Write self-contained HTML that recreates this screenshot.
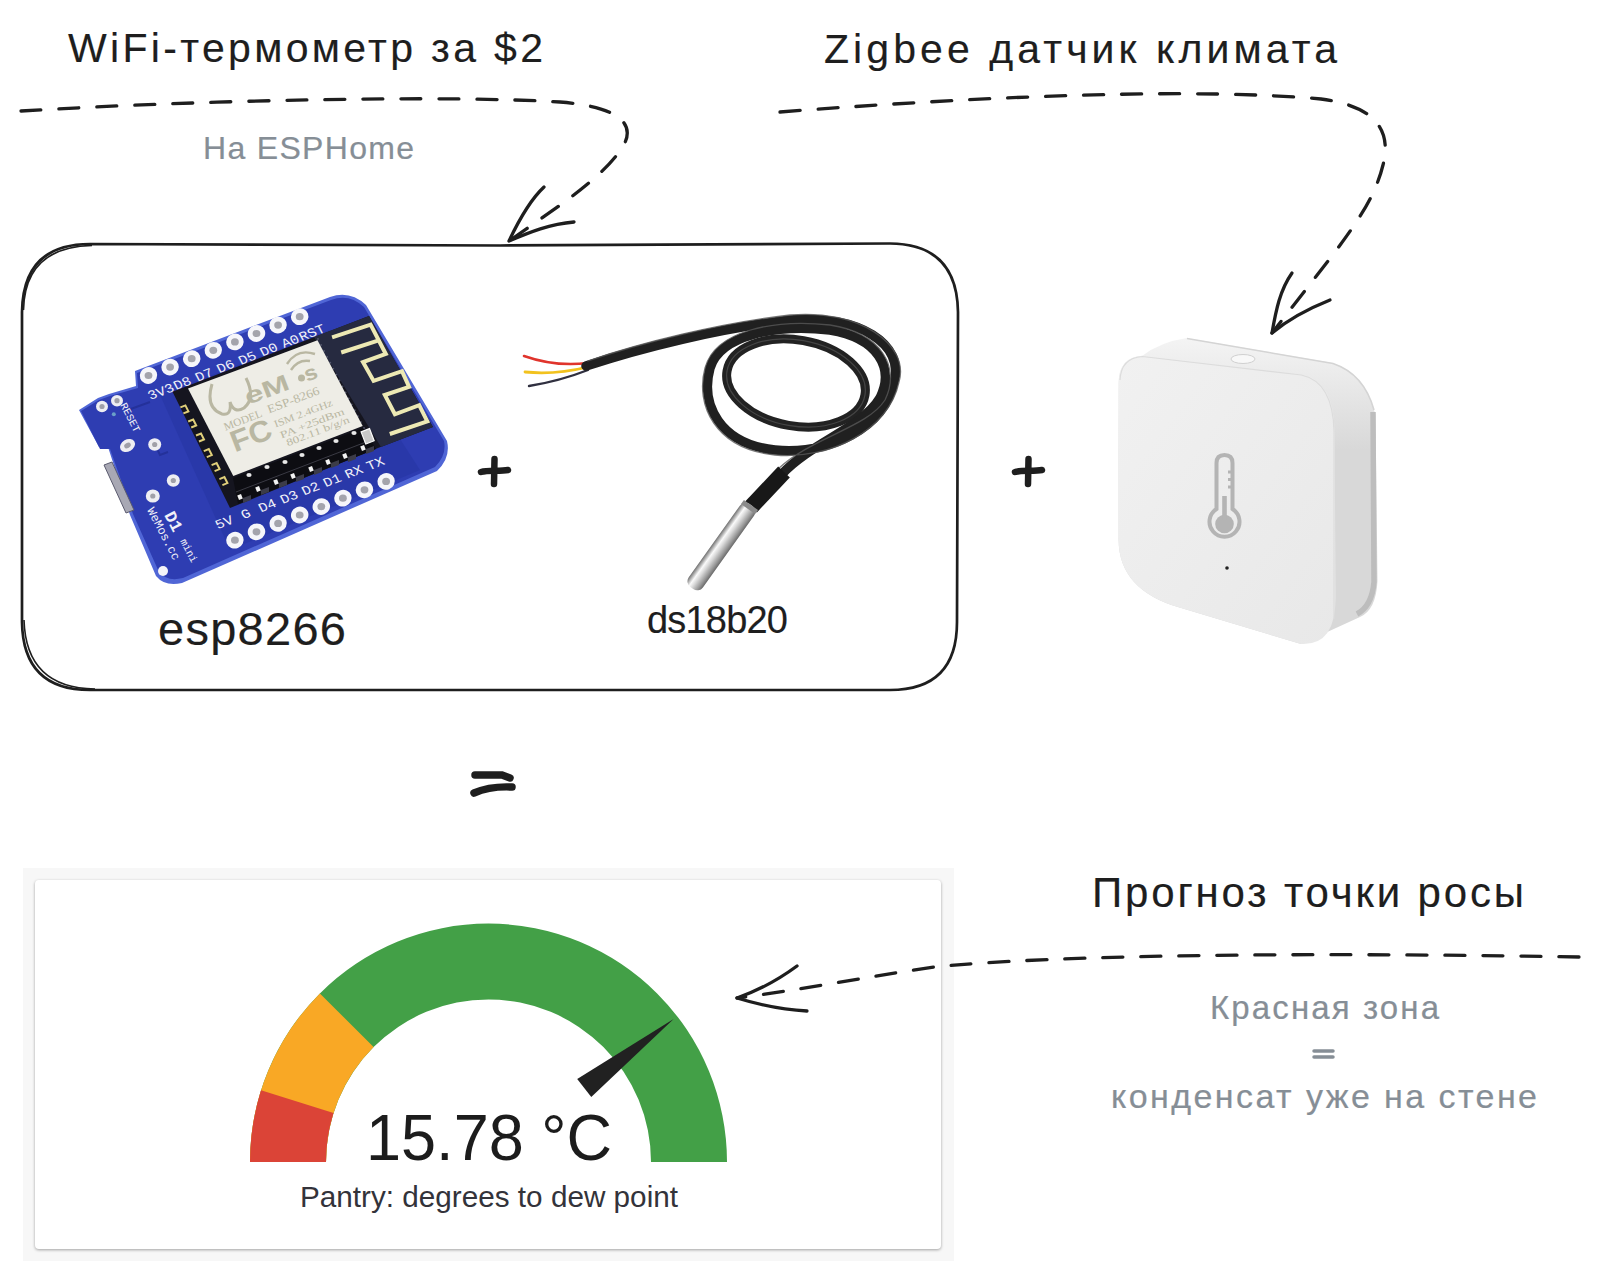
<!DOCTYPE html>
<html>
<head>
<meta charset="utf-8">
<style>
html,body{margin:0;padding:0;background:#fff;width:1600px;height:1283px;overflow:hidden;}
svg{position:absolute;left:0;top:0;display:block;}
.hw{font-family:"Liberation Sans",sans-serif;fill:#1e1e1e;stroke:#1e1e1e;stroke-width:0.15px;}
.gr{font-family:"Liberation Sans",sans-serif;fill:#868e96;stroke:#868e96;stroke-width:0.2px;}
</style>
</head>
<body>
<svg width="1600" height="1283" viewBox="0 0 1600 1283">
<!-- ============ TEXTS ============ -->
<text class="hw" x="68" y="62" font-size="41" textLength="475" lengthAdjust="spacing">WiFi-термометр за $2</text>
<text class="gr" x="203" y="159" font-size="32" textLength="211" lengthAdjust="spacing">На ESPHome</text>
<text class="hw" x="824" y="63" font-size="41" textLength="513" lengthAdjust="spacing">Zigbee датчик климата</text>
<text class="hw" x="158" y="645" font-size="47" textLength="188" lengthAdjust="spacing">esp8266</text>
<text class="hw" x="647" y="633" font-size="38" textLength="141" lengthAdjust="spacing">ds18b20</text>
<text class="hw" x="1092" y="907" font-size="42" textLength="432" lengthAdjust="spacing">Прогноз точки росы</text>
<text class="gr" x="1210" y="1019" font-size="33" textLength="229" lengthAdjust="spacing">Красная зона</text>
<text class="gr" x="1111" y="1108" font-size="34" textLength="426" lengthAdjust="spacing">конденсат уже на стене</text>
<g stroke="#868e96" stroke-width="3.5" stroke-linecap="round">
<path d="M1314 1051 L1333 1051"/><path d="M1314 1057 L1333 1057"/>
</g>


<!-- ============ ROUNDED RECT ============ -->
<g fill="none" stroke="#1e1e1e" stroke-width="2.7">
  <path d="M90 244 L 500 245.5 L 890 243.5 Q 957 244 958 312 L 957 622 Q 957 690 890 690 L 90 690 Q 23 690 22 622 L 22 312 Q 23 244 90 244 Z"/>
  <path d="M92 245.5 Q 25 247 23.5 310" stroke-width="1.6"/>
  <path d="M24 620 Q 26 688 95 689" stroke-width="1.6"/>
</g>

<!-- plus / equals -->
<g stroke="#1e1e1e" stroke-width="6.5" stroke-linecap="round" fill="none">
  <path d="M481 472 C 488 470, 500 471.5, 508 470"/><path d="M494.5 459 L 494 484"/>
  <path d="M1015 472 C 1022 470, 1034 471.5, 1042 470"/><path d="M1028.5 459 L 1028 484"/>
  <path d="M475 775 L 502 775 L 510 778" stroke-width="7.5"/><path d="M474 793 Q 490 786 512 787" stroke-width="7.5"/>
</g>

<!-- ============ GAUGE CARD ============ -->
<rect x="23" y="868" width="931" height="393" fill="#f7f7f7"/>
<rect x="35" y="880" width="906" height="369" rx="4" fill="#fff" style="filter:drop-shadow(0 1px 1.5px rgba(0,0,0,.35))"/>
<g transform="translate(488.5 1162)">
  <path d="M-238.5 0 A238.5 238.5 0 0 1 238.5 0 L162.5 0 A162.5 162.5 0 0 0 -162.5 0 Z" fill="#43a047"/>
  <path d="M-238.5 0 A238.5 238.5 0 0 1 -168.6 -168.6 L-114.9 -114.9 A162.5 162.5 0 0 0 -162.5 0 Z" fill="#f9a825"/>
  <path d="M-238.5 0 A238.5 238.5 0 0 1 -227.5 -71.7 L-155 -48.9 A162.5 162.5 0 0 0 -162.5 0 Z" fill="#db4437"/>
  <path d="M0 0" />
  <g transform="rotate(-37.7)">
    <path d="M121 -11.5 L 234 0 L 121 11.5 Z" fill="#212121"/>
  </g>
</g>
<text x="366" y="1160" font-family="Liberation Sans, sans-serif" font-size="65" fill="#1c1c1c" textLength="246" lengthAdjust="spacingAndGlyphs">15.78 °C</text>
<text x="300" y="1207" font-family="Liberation Sans, sans-serif" font-size="29" fill="#33333a" textLength="378" lengthAdjust="spacingAndGlyphs">Pantry: degrees to dew point</text>

<!-- BOARD-START -->
<g id="board">
<path d="M79,410 L98,398 L109,394 L136,386 L135,371 L330,297 Q350,290 366,305 L447,441 Q451,458 437,471 L182,583 Q165,587 156,576 L130,515 L108,447 L99,447 Z" fill="#5066d6"/>
<path d="M81,411 L99,400 L110,396 L138,388 L137,373 L331,300 Q349,293 364,307 L444,441 Q447,455 435,467 L183,578 Q167,582 159,572 L133,514 L110,449 L100,449 Z" fill="#2e3db2"/>
<path d="M160,395 L330,330 L420,470 L230,550 Z" fill="#2636a4" opacity=".6"/>
<path d="M104,465 L126,513 L134,510 L112,462 Z" fill="#a8a8b4" stroke="#5a5a6e" stroke-width="1"/>
<path d="M128,410 L150,402 M152,438 L160,455 L168,452" stroke="#24319a" stroke-width="2" fill="none"/>
<path d="M172.5,391.7 L369,316 L433,427 L378,448 L230,508 Z" fill="#15151f"/>
<path d="M314,337 L369,316 L433,427 L381,447 Z" fill="#262a40"/>
<circle cx="318.0" cy="339.0" r="0.9" fill="#55596e"/>
<circle cx="321.1" cy="344.9" r="0.9" fill="#55596e"/>
<circle cx="324.1" cy="350.9" r="0.9" fill="#55596e"/>
<circle cx="327.2" cy="356.8" r="0.9" fill="#55596e"/>
<circle cx="330.3" cy="362.7" r="0.9" fill="#55596e"/>
<circle cx="333.3" cy="368.7" r="0.9" fill="#55596e"/>
<circle cx="336.4" cy="374.6" r="0.9" fill="#55596e"/>
<circle cx="339.5" cy="380.5" r="0.9" fill="#55596e"/>
<circle cx="342.5" cy="386.5" r="0.9" fill="#55596e"/>
<circle cx="345.6" cy="392.4" r="0.9" fill="#55596e"/>
<circle cx="348.7" cy="398.3" r="0.9" fill="#55596e"/>
<circle cx="351.7" cy="404.3" r="0.9" fill="#55596e"/>
<circle cx="354.8" cy="410.2" r="0.9" fill="#55596e"/>
<circle cx="357.9" cy="416.1" r="0.9" fill="#55596e"/>
<circle cx="360.9" cy="422.1" r="0.9" fill="#55596e"/>
<circle cx="364.0" cy="428.0" r="0.9" fill="#55596e"/>
<path d="M180.4,407.4 l5,-2 l3,6 l-5,2" fill="none" stroke="#e0cf7a" stroke-width="2"/>
<path d="M188.2,421.5 l5,-2 l3,6 l-5,2" fill="none" stroke="#e0cf7a" stroke-width="2"/>
<path d="M196.0,435.5 l5,-2 l3,6 l-5,2" fill="none" stroke="#e0cf7a" stroke-width="2"/>
<path d="M203.8,451.1 l5,-2 l3,6 l-5,2" fill="none" stroke="#e0cf7a" stroke-width="2"/>
<path d="M211.6,465.1 l5,-2 l3,6 l-5,2" fill="none" stroke="#e0cf7a" stroke-width="2"/>
<path d="M219.4,479.1 l5,-2 l3,6 l-5,2" fill="none" stroke="#e0cf7a" stroke-width="2"/>
<path d="M233,478 L363,428 L376,449 L238,504 Z" fill="#0d0d12"/>
<ellipse cx="249.0" cy="475.0" rx="2.6" ry="2" fill="#e8e8e8"/>
<ellipse cx="267.0" cy="467.0" rx="2.6" ry="2" fill="#e8e8e8"/>
<ellipse cx="285.0" cy="462.0" rx="2.6" ry="2" fill="#e8e8e8"/>
<ellipse cx="302.0" cy="455.0" rx="2.6" ry="2" fill="#e8e8e8"/>
<ellipse cx="319.0" cy="448.0" rx="2.6" ry="2" fill="#e8e8e8"/>
<ellipse cx="336.0" cy="441.0" rx="2.6" ry="2" fill="#e8e8e8"/>
<ellipse cx="354.0" cy="433.0" rx="2.6" ry="2" fill="#e8e8e8"/>
<path d="M236,492 L366,442" stroke="#3a3a44" stroke-width="1"/>
<path d="M243.0,498.0 l8,-3 l0,5 l-8,3 Z" fill="#3c3c48"/>
<rect x="238.0" y="494.5" width="4" height="5" fill="#f2f2f2" transform="rotate(-21 240.0 497.0)"/>
<path d="M261.0,490.0 l8,-3 l0,5 l-8,3 Z" fill="#3c3c48"/>
<rect x="256.0" y="486.5" width="4" height="5" fill="#f2f2f2" transform="rotate(-21 258.0 489.0)"/>
<path d="M279.0,483.0 l8,-3 l0,5 l-8,3 Z" fill="#3c3c48"/>
<rect x="274.0" y="479.5" width="4" height="5" fill="#f2f2f2" transform="rotate(-21 276.0 482.0)"/>
<path d="M296.0,477.0 l8,-3 l0,5 l-8,3 Z" fill="#3c3c48"/>
<rect x="291.0" y="473.5" width="4" height="5" fill="#f2f2f2" transform="rotate(-21 293.0 476.0)"/>
<path d="M314.0,470.0 l8,-3 l0,5 l-8,3 Z" fill="#3c3c48"/>
<rect x="309.0" y="466.5" width="4" height="5" fill="#f2f2f2" transform="rotate(-21 311.0 469.0)"/>
<path d="M331.0,463.0 l8,-3 l0,5 l-8,3 Z" fill="#3c3c48"/>
<rect x="326.0" y="459.5" width="4" height="5" fill="#f2f2f2" transform="rotate(-21 328.0 462.0)"/>
<path d="M348.0,457.0 l8,-3 l0,5 l-8,3 Z" fill="#3c3c48"/>
<rect x="343.0" y="453.5" width="4" height="5" fill="#f2f2f2" transform="rotate(-21 345.0 456.0)"/>
<path d="M366.0,449.0 l8,-3 l0,5 l-8,3 Z" fill="#3c3c48"/>
<rect x="361.0" y="445.5" width="4" height="5" fill="#f2f2f2" transform="rotate(-21 363.0 448.0)"/>
<path d="M188,388.6 L317.5,340.3 L362.7,426 L233.3,475.9 Z" fill="#eeede6"/>
<g font-family="Liberation Sans,sans-serif">
<path d="M212,384 Q 205,408 222,414 Q 232,416 230,402 Q 234,414 244,408 Q 256,398 246,378" fill="none" stroke="#b9b7a2" stroke-width="3"/>
<text x="0" y="0" transform="translate(248.0 405.0) rotate(-21)" font-size="23" textLength="46" lengthAdjust="spacingAndGlyphs" fill="#b9b7a2" font-weight="bold">eM</text>
<circle cx="301.5" cy="378" r="3.5" fill="#b9b7a2"/>
<path d="M291,370 Q 298,359 310,361 M287,364 Q 297,348 315,354" fill="none" stroke="#b9b7a2" stroke-width="2.4"/>
<text x="0" y="0" transform="translate(307.0 382.0) rotate(-21)" font-size="21" textLength="13" lengthAdjust="spacingAndGlyphs" fill="#b9b7a2" font-weight="bold">s</text>
<text x="0" y="0" transform="translate(269.0 413.5) rotate(-21)" font-size="12" textLength="55" lengthAdjust="spacingAndGlyphs" fill="#b9b7a2" font-family="Liberation Serif,serif">ESP-8266</text>
<text x="0" y="0" transform="translate(225.5 430.7) rotate(-21)" font-size="11" textLength="40" lengthAdjust="spacingAndGlyphs" fill="#b9b7a2" font-family="Liberation Serif,serif">MODEL</text>
<text x="0" y="0" transform="translate(235.0 452.5) rotate(-21)" font-size="30" textLength="42" lengthAdjust="spacingAndGlyphs" fill="#b9b7a2" font-weight="bold">FC</text>
<text x="0" y="0" transform="translate(275.4 427.6) rotate(-21)" font-size="10" textLength="62" lengthAdjust="spacingAndGlyphs" fill="#b9b7a2" font-family="Liberation Serif,serif">ISM  2.4GHz</text>
<text x="0" y="0" transform="translate(281.6 438.5) rotate(-21)" font-size="10" textLength="68" lengthAdjust="spacingAndGlyphs" fill="#b9b7a2" font-family="Liberation Serif,serif">PA    +25dBm</text>
<text x="0" y="0" transform="translate(287.8 446.3) rotate(-21)" font-size="10" textLength="67" lengthAdjust="spacingAndGlyphs" fill="#b9b7a2" font-family="Liberation Serif,serif">802.11 b/g/n</text>
</g>
<polyline points="332.1,337.3 370.6,324.6 385.8,354 363,362.1 373.6,380.9 402,371.2 409.1,386.9 384.8,395 394.9,414.3 419.2,405.2 427.3,421.4 389.8,434" fill="none" stroke="#ede9b4" stroke-width="4"/>
<line x1="341.2" y1="352.5" x2="378.7" y2="340.3" stroke="#ede9b4" stroke-width="4"/>
<rect x="363" y="430" width="9" height="13" fill="#c8c8c8" stroke="#fafafa" stroke-width="1.2" transform="rotate(-21 367 436)"/>
<ellipse cx="148.5" cy="375.5" rx="8.8" ry="8.3" fill="#f6f6fa" transform="rotate(-21 148.5 375.5)"/>
<ellipse cx="148.5" cy="375.5" rx="3.9" ry="3.6" fill="#a4a4ac"/>
<ellipse cx="234.9" cy="540.2" rx="8.8" ry="8.3" fill="#f6f6fa" transform="rotate(-21 234.9 540.2)"/>
<ellipse cx="234.9" cy="540.2" rx="3.9" ry="3.6" fill="#a4a4ac"/>
<ellipse cx="170.1" cy="367.1" rx="8.8" ry="8.3" fill="#f6f6fa" transform="rotate(-21 170.1 367.1)"/>
<ellipse cx="170.1" cy="367.1" rx="3.9" ry="3.6" fill="#a4a4ac"/>
<ellipse cx="256.5" cy="531.8" rx="8.8" ry="8.3" fill="#f6f6fa" transform="rotate(-21 256.5 531.8)"/>
<ellipse cx="256.5" cy="531.8" rx="3.9" ry="3.6" fill="#a4a4ac"/>
<ellipse cx="191.7" cy="358.7" rx="8.8" ry="8.3" fill="#f6f6fa" transform="rotate(-21 191.7 358.7)"/>
<ellipse cx="191.7" cy="358.7" rx="3.9" ry="3.6" fill="#a4a4ac"/>
<ellipse cx="278.1" cy="523.4" rx="8.8" ry="8.3" fill="#f6f6fa" transform="rotate(-21 278.1 523.4)"/>
<ellipse cx="278.1" cy="523.4" rx="3.9" ry="3.6" fill="#a4a4ac"/>
<ellipse cx="213.3" cy="350.3" rx="8.8" ry="8.3" fill="#f6f6fa" transform="rotate(-21 213.3 350.3)"/>
<ellipse cx="213.3" cy="350.3" rx="3.9" ry="3.6" fill="#a4a4ac"/>
<ellipse cx="299.7" cy="515.0" rx="8.8" ry="8.3" fill="#f6f6fa" transform="rotate(-21 299.7 515.0)"/>
<ellipse cx="299.7" cy="515.0" rx="3.9" ry="3.6" fill="#a4a4ac"/>
<ellipse cx="234.9" cy="341.9" rx="8.8" ry="8.3" fill="#f6f6fa" transform="rotate(-21 234.9 341.9)"/>
<ellipse cx="234.9" cy="341.9" rx="3.9" ry="3.6" fill="#a4a4ac"/>
<ellipse cx="321.3" cy="506.6" rx="8.8" ry="8.3" fill="#f6f6fa" transform="rotate(-21 321.3 506.6)"/>
<ellipse cx="321.3" cy="506.6" rx="3.9" ry="3.6" fill="#a4a4ac"/>
<ellipse cx="256.5" cy="333.5" rx="8.8" ry="8.3" fill="#f6f6fa" transform="rotate(-21 256.5 333.5)"/>
<ellipse cx="256.5" cy="333.5" rx="3.9" ry="3.6" fill="#a4a4ac"/>
<ellipse cx="342.9" cy="498.2" rx="8.8" ry="8.3" fill="#f6f6fa" transform="rotate(-21 342.9 498.2)"/>
<ellipse cx="342.9" cy="498.2" rx="3.9" ry="3.6" fill="#a4a4ac"/>
<ellipse cx="278.1" cy="325.1" rx="8.8" ry="8.3" fill="#f6f6fa" transform="rotate(-21 278.1 325.1)"/>
<ellipse cx="278.1" cy="325.1" rx="3.9" ry="3.6" fill="#a4a4ac"/>
<ellipse cx="364.5" cy="489.8" rx="8.8" ry="8.3" fill="#f6f6fa" transform="rotate(-21 364.5 489.8)"/>
<ellipse cx="364.5" cy="489.8" rx="3.9" ry="3.6" fill="#a4a4ac"/>
<ellipse cx="299.7" cy="316.7" rx="8.8" ry="8.3" fill="#f6f6fa" transform="rotate(-21 299.7 316.7)"/>
<ellipse cx="299.7" cy="316.7" rx="3.9" ry="3.6" fill="#a4a4ac"/>
<ellipse cx="386.1" cy="481.4" rx="8.8" ry="8.3" fill="#f6f6fa" transform="rotate(-21 386.1 481.4)"/>
<ellipse cx="386.1" cy="481.4" rx="3.9" ry="3.6" fill="#a4a4ac"/>
<ellipse cx="102.0" cy="406.5" rx="6.0" ry="5.7" fill="#eeeef2"/><circle cx="102.0" cy="406.5" r="2.6" fill="#a0a0a8"/>
<ellipse cx="117.0" cy="400.7" rx="6.0" ry="5.7" fill="#eeeef2"/><circle cx="117.0" cy="400.7" r="2.6" fill="#a0a0a8"/>
<ellipse cx="154.7" cy="444.5" rx="6.5" ry="6.2" fill="#eeeef2"/><circle cx="154.7" cy="444.5" r="2.6" fill="#a0a0a8"/>
<ellipse cx="173.3" cy="480.5" rx="6.5" ry="6.2" fill="#eeeef2"/><circle cx="173.3" cy="480.5" r="2.6" fill="#a0a0a8"/>
<ellipse cx="152.8" cy="496.0" rx="7.0" ry="6.6" fill="#eeeef2"/><circle cx="152.8" cy="496.0" r="2.6" fill="#a0a0a8"/>
<circle cx="163" cy="571" r="5" fill="#f4f4f8"/>
<circle cx="113.8" cy="414.3" r="2" fill="#6aa0c8"/>
<ellipse cx="127.5" cy="445.5" rx="8" ry="6" transform="rotate(-30 127.5 445.5)" fill="#eeeef2"/><ellipse cx="127.5" cy="445.5" rx="3.5" ry="2.5" transform="rotate(-30 127.5 445.5)" fill="#a0a0a8"/>
<g transform="matrix(21.600,-8.400,9.600,18.300,148.50,375.50)" fill="#f0f0f8" font-family="Liberation Mono,monospace" font-size="0.64" text-anchor="middle">
<text x="0.15" y="1.15">3V3</text>
<text x="1.15" y="1.15">D8</text>
<text x="2.15" y="1.15">D7</text>
<text x="3.15" y="1.15">D6</text>
<text x="4.15" y="1.15">D5</text>
<text x="5.15" y="1.15">D0</text>
<text x="6.15" y="1.15">A0</text>
<text x="7.15" y="1.15">RST</text>
<text x="-0.05" y="8.2">5V</text>
<text x="0.95" y="8.2">G</text>
<text x="1.95" y="8.2">D4</text>
<text x="2.95" y="8.2">D3</text>
<text x="3.95" y="8.2">D2</text>
<text x="4.95" y="8.2">D1</text>
<text x="5.95" y="8.2">RX</text>
<text x="6.95" y="8.2">TX</text>
</g>
<g fill="#f0f0f8" font-family="Liberation Mono,monospace">
<text transform="translate(120 405) rotate(62.6)" font-size="10.5">RESET</text>
<text transform="translate(164 515) rotate(62.6)" font-size="17" font-weight="bold">D1</text>
<text transform="translate(180 541) rotate(62.6)" font-size="10.5">mini</text>
<text transform="translate(147 510) rotate(62.6)" font-size="12">WeMos.cc</text>
</g>
</g>
<!-- BOARD-END -->
<!-- CABLE-START -->
<g id="cable" fill="none" stroke-linecap="round">
  <!-- wires -->
  <path d="M524 356 Q 555 367 588 363" stroke="#e0342c" stroke-width="2.6"/>
  <path d="M525 372 Q 555 375 588 367" stroke="#f2c21e" stroke-width="2.8"/>
  <path d="M529 386 Q 560 381 588 370" stroke="#303040" stroke-width="2.4"/>
  <!-- extra inner strand -->
  <ellipse cx="796" cy="383" rx="70" ry="43" transform="rotate(10 796 383)" stroke="#222" stroke-width="9"/>
  <ellipse cx="796" cy="383" rx="70" ry="43" transform="rotate(10 796 383)" stroke="#5c5c5c" stroke-width="1.2" opacity=".6"/>
  <!-- continuous spiral cable -->
  <path id="spiral" d="M586 366 C 640 348, 720 328, 790 320 C 860 314, 905 345, 894 382 C 884 428, 830 455, 775 450 C 720 444, 700 405, 710 368 C 720 335, 775 324, 830 330 C 878 338, 895 368, 880 398 C 862 428, 812 442, 782 474" stroke="#202020" stroke-width="9.5"/>
  <path d="M588 361 C 640 343, 720 323, 790 315 C 860 309, 910 345, 899 382 C 889 430, 830 460, 775 455 C 715 449, 695 405, 705 368 C 715 330, 775 319, 830 325 C 882 333, 901 368, 885 400 C 867 428, 812 437, 778 469" stroke="#585858" stroke-width="1.3" opacity=".8"/>
  <!-- heat shrink -->
  <path d="M784 472 L 751 507" stroke="#181818" stroke-width="16" stroke-linecap="butt"/>
</g>
<!-- probe metal -->
<defs>
  <linearGradient id="metal" x1="0" y1="0" x2="1" y2="0">
    <stop offset="0" stop-color="#707070"/>
    <stop offset=".3" stop-color="#fafafa"/>
    <stop offset=".5" stop-color="#d8d8d8"/>
    <stop offset=".8" stop-color="#9a9a9a"/>
    <stop offset="1" stop-color="#6a6a6a"/>
  </linearGradient>
</defs>
<g transform="translate(751 505) rotate(35.5)">
  <rect x="-8.7" y="0" width="17.4" height="102" rx="7" fill="url(#metal)"/>
  <rect x="-8.7" y="0" width="17.4" height="5" fill="#8a8a8a"/>
</g>

<!-- CABLE-END -->
<!-- AQARA-START -->
<g id="aqara">
  <defs>
    <linearGradient id="aqf" x1="0" y1="0" x2="1" y2="1">
      <stop offset="0" stop-color="#f1f1f1"/>
      <stop offset="1" stop-color="#e8e8e8"/>
    </linearGradient>
  </defs>
  <linearGradient id="aqs" x1="0" y1="338" x2="0" y2="450" gradientUnits="userSpaceOnUse">
    <stop offset="0" stop-color="#f4f4f4"/>
    <stop offset="1" stop-color="#d8d8d8"/>
  </linearGradient>
  <!-- body silhouette -->
  <path d="M1118.6 383 Q 1119 357 1142.4 355.8 Q 1160 342 1187 338 L 1333 363 Q 1366 375 1375.5 415 L 1377.5 581 Q 1376 610 1360 617 L 1301 644 L 1179.5 607.6 Q 1119 590 1118.6 540 Z" fill="url(#aqs)"/>
  <path d="M1187 338.5 L 1333 363.5 Q 1364 374 1374 410" fill="none" stroke="#d4d4d4" stroke-width="1.6"/>
  <!-- side seam -->
  <path d="M1373 412 L 1374 582 Q 1372 606 1357 614" fill="none" stroke="#bdbdbd" stroke-width="5.5"/>
  <!-- front face -->
  <path d="M1118.6 383 Q 1119 357 1142.4 355.8 L 1301.4 374.3 Q 1334 381 1334.6 431.3 L 1335.5 597 Q 1336 646 1301 644 L 1179.5 607.6 Q 1119 590 1118.6 540 Z" fill="url(#aqf)"/>
  <path d="M1120 380 Q 1121 358 1142.4 356.5 L 1301.4 375 Q 1333 382 1334 431.3 L 1334 619" fill="none" stroke="#dcdcdc" stroke-width="1.2"/>
  <!-- button -->
  <ellipse cx="1243" cy="359" rx="12" ry="4.5" fill="#f8f8f8" stroke="#d0d0d0" stroke-width="1"/>
  <!-- thermometer icon -->
  <g fill="none" stroke="#b4b4b4" stroke-width="4">
    <path d="M1216.5 509 L1216.5 463 Q1216.5 455 1224.5 455 Q1232.5 455 1232.5 463 L1232.5 509 A 15 15 0 1 1 1216.5 509 Z"/>
    <path d="M1228 472 H1233 M1228 479.5 H1233 M1228 487 H1233" stroke-width="3"/>
  </g>
  <circle cx="1224.5" cy="524" r="9.3" fill="#b4b4b4"/>
  <rect x="1222.2" y="496" width="4.6" height="24" fill="#b4b4b4"/>
  <circle cx="1227" cy="568" r="1.8" fill="#222"/>
</g>

<!-- AQARA-END -->
<!-- IMAGES-PLACEHOLDER -->
<!-- ============ ARROWS ============ -->
<g fill="none" stroke="#1e1e1e" stroke-width="3.3" stroke-linecap="round" stroke-linejoin="round">
  <path stroke-dasharray="20 18" d="M21 111 C 200 100, 450 95, 560 102 C 610 106, 640 120, 622 148 C 600 180, 560 205, 509 241"/>
  <path d="M544 187 C 530 200, 518 222, 509 241 C 530 232, 550 224, 574 222"/>
  <path stroke-dasharray="20 18" d="M780 112 C 1000 95, 1200 88, 1321 99 C 1375 106, 1392 130, 1383 165 C 1372 210, 1340 245, 1272 333"/>
  <path d="M1292 273 C 1280 290, 1276 310, 1272 333 C 1290 318, 1310 308, 1330 300"/>
  <path stroke-dasharray="20 18" d="M1579 957 C 1300 952, 1050 955, 934 967 C 860 978, 800 990, 737 998"/>
  <path d="M797 966 C 778 980, 760 990, 737 998 C 760 1005, 785 1010, 807 1011"/>
</g>

</svg>
</body>
</html>
